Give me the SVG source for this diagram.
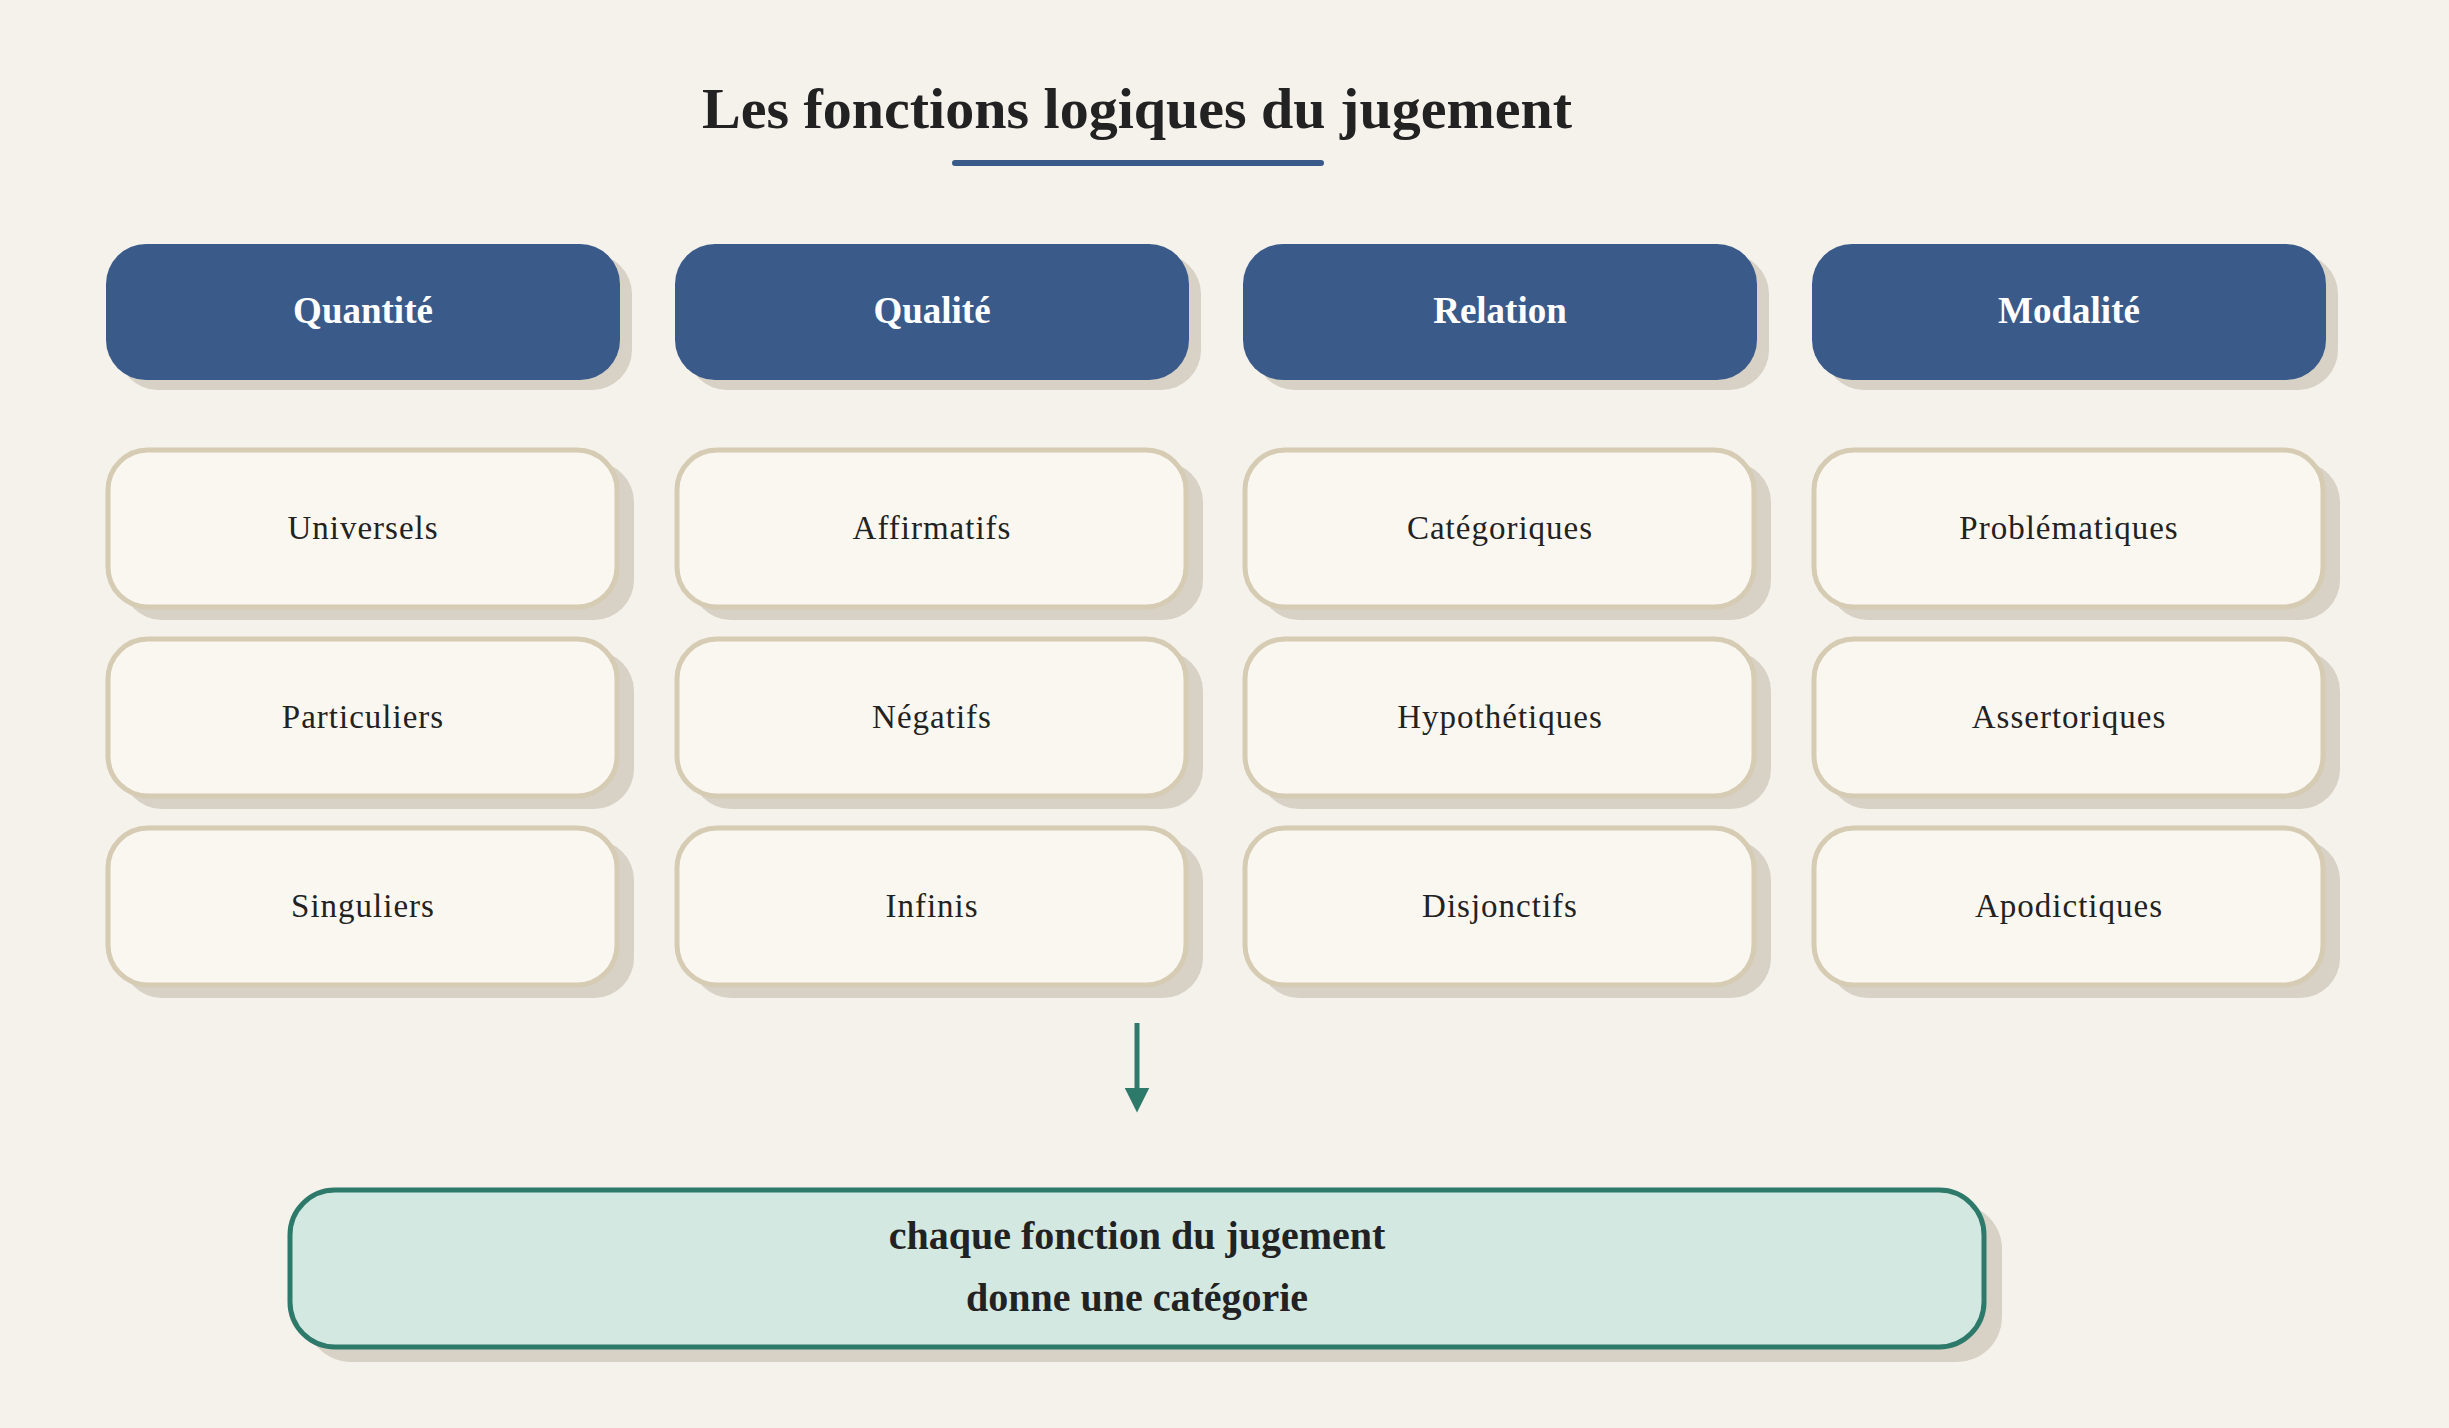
<svg xmlns="http://www.w3.org/2000/svg" width="2449" height="1428" viewBox="0 0 2449 1428">
<style>
.t{font-family:"Liberation Serif",serif;text-anchor:middle}
.h rect.b{fill:#3a5a8a}
.sh{fill:#d7d1c6}
.i rect.b{fill:#faf7f1;stroke:#d6cbb3;stroke-width:5}
.ht{fill:#fff;font-weight:bold;font-size:37px}
.it{fill:#222;font-size:33px;letter-spacing:1px}
</style>
<defs><marker id="ar" viewBox="0 0 10 10" refX="5" refY="5" markerWidth="5" markerHeight="5" orient="auto"><path d="M0,0L10,5L0,10z" fill="#2e7a6a"/></marker></defs>
<rect width="2449" height="1428" fill="#f5f1eb"/>
<text class="t" x="1137" y="128" font-size="58" font-weight="bold" fill="#222">Les fonctions logiques du jugement</text>
<line x1="955" y1="163" x2="1321" y2="163" stroke="#3a5a8a" stroke-width="6" stroke-linecap="round"/>
<g id="h1" class="h"><rect class="sh" x="118" y="254" width="514" height="136" rx="40"/><rect class="b" x="106" y="244" width="514" height="136" rx="40"/><text class="t ht" x="363" y="323">Quantité</text></g>
<g id="h2" class="h"><rect class="sh" x="687" y="254" width="514" height="136" rx="40"/><rect class="b" x="675" y="244" width="514" height="136" rx="40"/><text class="t ht" x="932" y="323">Qualité</text></g>
<g id="h3" class="h"><rect class="sh" x="1255" y="254" width="514" height="136" rx="40"/><rect class="b" x="1243" y="244" width="514" height="136" rx="40"/><text class="t ht" x="1500" y="323">Relation</text></g>
<g id="h4" class="h"><rect class="sh" x="1824" y="254" width="514" height="136" rx="40"/><rect class="b" x="1812" y="244" width="514" height="136" rx="40"/><text class="t ht" x="2069" y="323">Modalité</text></g>
<g id="n11" class="i"><rect class="sh" x="122" y="462" width="512" height="158" rx="40"/><rect class="b" x="108" y="450" width="509" height="157" rx="40"/><text class="t it" x="363" y="539">Universels</text></g>
<g id="n12" class="i"><rect class="sh" x="122" y="651" width="512" height="158" rx="40"/><rect class="b" x="108" y="639" width="509" height="157" rx="40"/><text class="t it" x="363" y="728">Particuliers</text></g>
<g id="n13" class="i"><rect class="sh" x="122" y="840" width="512" height="158" rx="40"/><rect class="b" x="108" y="828" width="509" height="157" rx="40"/><text class="t it" x="363" y="917">Singuliers</text></g>
<g id="n21" class="i"><rect class="sh" x="691" y="462" width="512" height="158" rx="40"/><rect class="b" x="677" y="450" width="509" height="157" rx="40"/><text class="t it" x="932" y="539">Affirmatifs</text></g>
<g id="n22" class="i"><rect class="sh" x="691" y="651" width="512" height="158" rx="40"/><rect class="b" x="677" y="639" width="509" height="157" rx="40"/><text class="t it" x="932" y="728">Négatifs</text></g>
<g id="n23" class="i"><rect class="sh" x="691" y="840" width="512" height="158" rx="40"/><rect class="b" x="677" y="828" width="509" height="157" rx="40"/><text class="t it" x="932" y="917">Infinis</text></g>
<g id="n31" class="i"><rect class="sh" x="1259" y="462" width="512" height="158" rx="40"/><rect class="b" x="1245" y="450" width="509" height="157" rx="40"/><text class="t it" x="1500" y="539">Catégoriques</text></g>
<g id="n32" class="i"><rect class="sh" x="1259" y="651" width="512" height="158" rx="40"/><rect class="b" x="1245" y="639" width="509" height="157" rx="40"/><text class="t it" x="1500" y="728">Hypothétiques</text></g>
<g id="n33" class="i"><rect class="sh" x="1259" y="840" width="512" height="158" rx="40"/><rect class="b" x="1245" y="828" width="509" height="157" rx="40"/><text class="t it" x="1500" y="917">Disjonctifs</text></g>
<g id="n41" class="i"><rect class="sh" x="1828" y="462" width="512" height="158" rx="40"/><rect class="b" x="1814" y="450" width="509" height="157" rx="40"/><text class="t it" x="2069" y="539">Problématiques</text></g>
<g id="n42" class="i"><rect class="sh" x="1828" y="651" width="512" height="158" rx="40"/><rect class="b" x="1814" y="639" width="509" height="157" rx="40"/><text class="t it" x="2069" y="728">Assertoriques</text></g>
<g id="n43" class="i"><rect class="sh" x="1828" y="840" width="512" height="158" rx="40"/><rect class="b" x="1814" y="828" width="509" height="157" rx="40"/><text class="t it" x="2069" y="917">Apodictiques</text></g>
<g id="connectors"><line x1="1137" y1="1023" x2="1137" y2="1100" stroke="#2e7a6a" stroke-width="5" marker-end="url(#ar)"/></g>
<g id="result"><rect x="306" y="1204" width="1696" height="158" rx="45" fill="#d7d1c6"/><rect x="290" y="1190" width="1694" height="157" rx="45" fill="#d4e8e2" stroke="#2e7a6a" stroke-width="5"/>
<text class="t" x="1137" y="1249" font-size="40" font-weight="bold" fill="#222">chaque fonction du jugement</text>
<text class="t" x="1137" y="1311" font-size="40" font-weight="bold" fill="#222">donne une catégorie</text></g>
</svg>
